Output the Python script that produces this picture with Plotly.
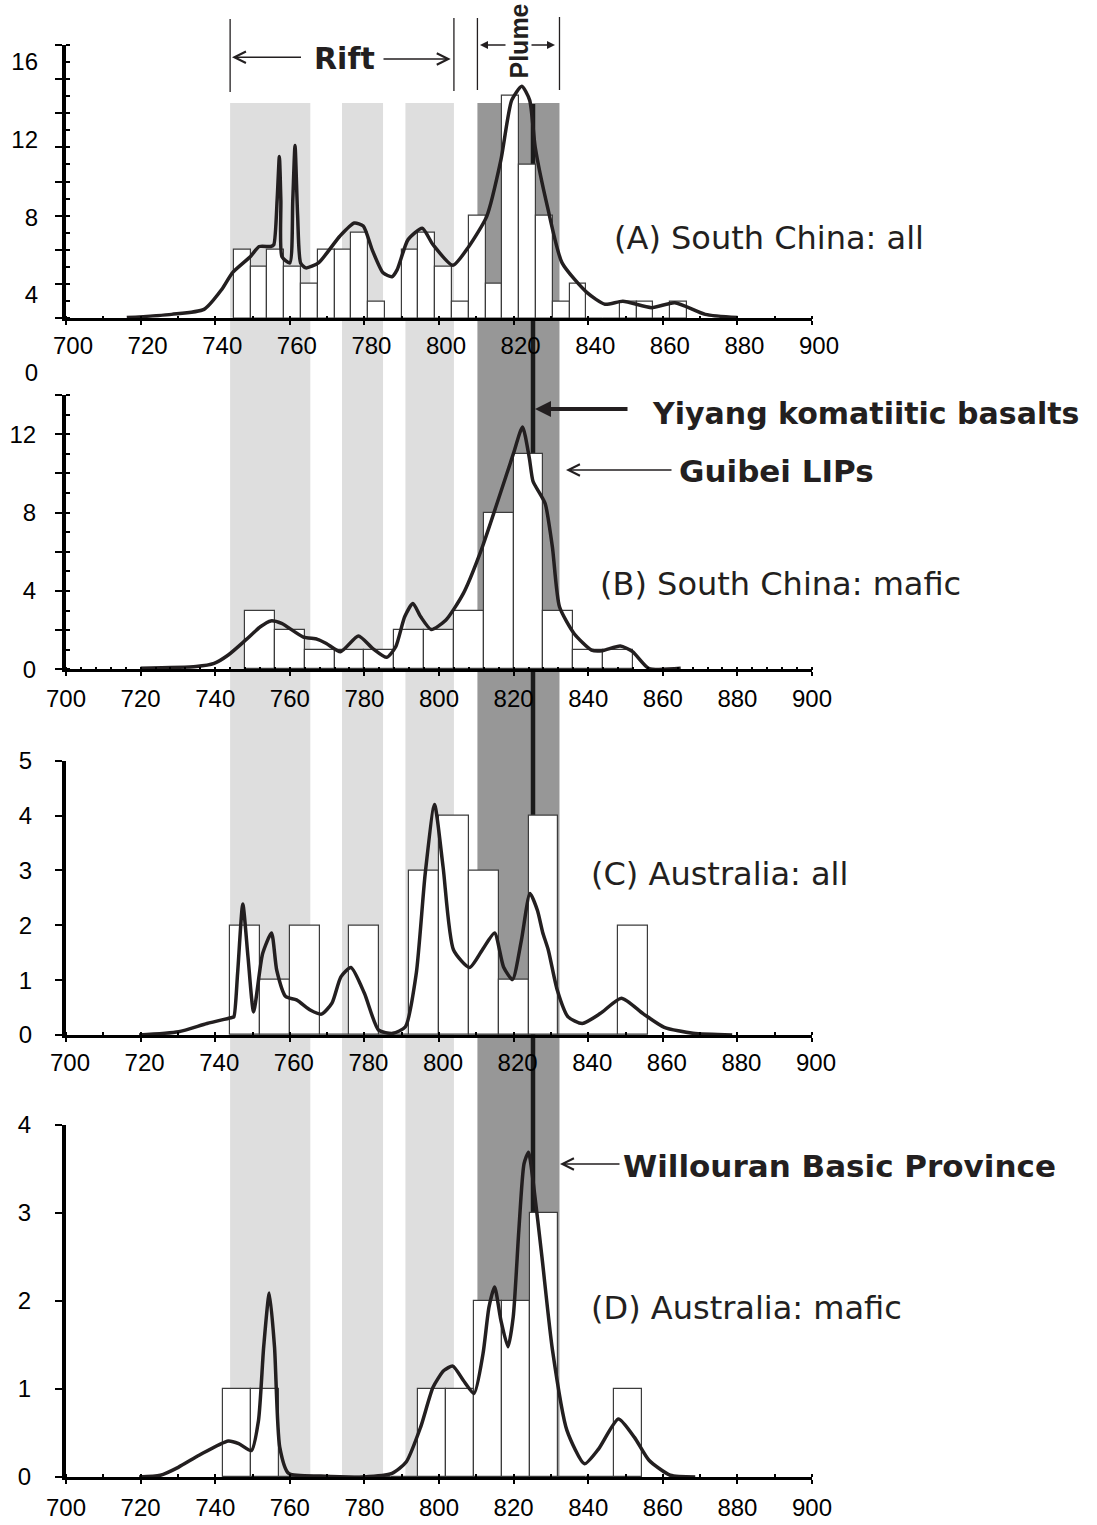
import plotly.graph_objects as go

W, H = 1097, 1525

# ---- Histogram counts (number of zircon ages per bin, Ma) ----
a_bin_start, a_bin_width = 745.0, 4.5
a_counts = [4, 3, 4, 3, 2, 4, 4, 5, 1, 0, 4, 5, 3, 1, 6, 2, 13, 9, 6, 1, 2, 0, 0, 1, 1, 0, 1]

b_bin_start, b_bin_width = 748.0, 8.0
b_counts = [3, 2, 1, 1, 1, 2, 2, 3, 8, 11, 3, 1, 1]

c_bin_start, c_bin_width = 744.0, 8.0
c_counts = [2, 1, 2, 0, 2, 0, 3, 4, 3, 1, 4, 0, 0, 2]

d_bin_start, d_bin_width = 742.0, 7.5
d_counts = [1, 1, 0, 0, 0, 0, 0, 1, 1, 2, 2, 3, 0, 0, 1]

# ---- Relative probability curves ----
a_curve_age = [716.3, 728.3, 737.0, 741.8, 744.6, 749.4, 751.8, 754.9, 755.7, 756.6, 757.2,
               757.6, 757.9, 760.0, 760.8, 761.4, 762.1, 762.9, 764.3, 767.7, 773.4, 777.3,
               779.7, 782.1, 785.0, 787.4, 788.8, 791.7, 795.5, 798.4, 803.7, 808.0, 812.8,
               816.6, 819.5, 822.2, 824.3, 825.8, 829.1, 833.0, 839.7, 844.5, 849.3, 857.0,
               863.2, 871.4, 880.0]
a_curve_val = [0.04, 0.23, 0.52, 1.7, 2.66, 3.6, 4.2, 4.2, 4.3, 6.9, 9.46,
               6.9, 3.6, 3.24, 6.9, 10.1, 6.0, 3.24, 2.95, 3.24, 4.8, 5.57,
               5.4, 4.0, 2.66, 2.43, 2.85, 4.6, 5.26, 4.3, 3.1, 4.2, 5.96,
               9.26, 12.76, 13.57, 12.76, 10.0, 6.5, 3.24, 1.5, 0.82, 1.0, 0.62,
               0.91, 0.23, 0.04]

b_curve_age = [720.0, 734.9, 739.7, 743.5, 748.2, 752.1, 754.9, 757.8, 763.5, 767.4, 769.8,
               773.6, 778.4, 782.2, 786.0, 788.4, 790.8, 793.0, 795.1, 797.9, 801.8, 806.5,
               811.3, 816.1, 819.9, 822.4, 824.2, 825.2, 827.1, 828.5, 830.4, 832.3, 836.2,
               840.9, 843.8, 848.6, 851.9, 856.2, 864.8]
b_curve_val = [0.05, 0.14, 0.3, 0.73, 1.5, 2.17, 2.47, 2.34, 1.66, 1.53, 1.32,
               0.9, 1.7, 1.07, 0.61, 1.15, 2.68, 3.36, 2.68, 2.03, 2.5, 3.86,
               6.07, 8.78, 10.98, 12.37, 10.8, 9.6, 8.95, 8.44, 6.24, 3.19, 1.83,
               0.98, 0.95, 1.19, 0.9, 0.05, 0.05]

c_curve_age = [719.6, 730.2, 737.8, 744.5, 745.0, 746.0, 747.4, 748.8, 750.3, 752.7, 755.1,
               756.5, 758.9, 761.8, 765.6, 768.5, 771.3, 773.7, 776.4, 780.0, 783.8, 787.6,
               791.0, 793.9, 796.3, 798.8, 801.1, 803.9, 808.2, 811.6, 814.9, 817.3, 819.7,
               822.1, 824.4, 826.4, 827.8, 829.3, 831.7, 834.6, 838.4, 843.2, 848.9, 854.7,
               860.4, 868.1, 878.6]
c_curve_val = [0.0, 0.06, 0.21, 0.32, 0.33, 1.12, 2.39, 1.42, 0.42, 1.48, 1.86,
               1.18, 0.7, 0.64, 0.45, 0.38, 0.58, 1.06, 1.23, 0.76, 0.09, 0.03,
               0.15, 1.12, 2.94, 4.2, 3.06, 1.55, 1.23, 1.55, 1.86, 1.24, 1.01,
               1.73, 2.58, 2.27, 1.87, 1.55, 0.82, 0.33, 0.21, 0.39, 0.67, 0.39,
               0.14, 0.03, 0.0]

d_curve_age = [719.6, 725.3, 730.1, 735.8, 743.5, 746.3, 749.7, 751.6, 753.0, 754.5, 755.9,
               757.3, 759.7, 768.3, 779.8, 787.4, 791.2, 795.1, 798.4, 801.3, 803.7, 806.5,
               809.4, 811.8, 813.4, 814.9, 816.6, 818.5, 819.9, 821.4, 822.8, 824.0, 825.2,
               827.6, 830.4, 834.3, 839.0, 842.8, 848.1, 852.4, 856.3, 862.0, 868.7]
d_curve_val = [0.0, 0.02, 0.11, 0.25, 0.41, 0.38, 0.3, 0.64, 1.48, 2.09, 1.48,
               0.34, 0.04, 0.01, 0.0, 0.04, 0.17, 0.57, 1.02, 1.21, 1.26, 1.1,
               0.95, 1.4, 1.93, 2.16, 1.78, 1.48, 1.82, 2.8, 3.56, 3.69, 3.37,
               2.5, 1.45, 0.53, 0.15, 0.32, 0.66, 0.45, 0.19, 0.02, 0.0]

# ---- Event windows (Ma) ----
rift_bands = [[744.0, 765.5], [774.0, 785.0], [791.0, 804.0]]
plume_band = [810.3, 832.3]
yiyang_age = 825.2

panel_labels = ["(A) South China: all", "(B) South China: mafic",
                "(C) Australia: all", "(D) Australia: mafic"]
a_label_ticks = [0, 4, 8, 12, 16]


def fx(p):
    return p / W


def fy(p):
    return 1 - p / H


INK = "#231f20"
TICK_FONT = dict(family="Liberation Sans, Arial", size=24, color="black")
X_DOM = [fx(66), fx(812)]

# panel geometry: top / bottom of the y axis in pixels, axis maximum, ticks
panels = [
    dict(top=44.7, bottom=318.3, ymax=16, yt=list(range(0, 17, 2)), ylab=False,
         xminor=10, xshift=7, xstand=0, ystand=20,
         bins=(a_bin_start, a_bin_width, a_counts), curve=(a_curve_age, a_curve_val)),
    dict(top=395.0, bottom=669.3, ymax=14, yt=list(range(0, 15, 2)), ylab=True,
         xminor=4, xshift=0, xstand=2, ystand=14,
         bins=(b_bin_start, b_bin_width, b_counts), curve=(b_curve_age, b_curve_val)),
    dict(top=760.7, bottom=1035.0, ymax=5, yt=list(range(0, 6)), ylab=True,
         xminor=10, xshift=4, xstand=0, ystand=18,
         bins=(c_bin_start, c_bin_width, c_counts), curve=(c_curve_age, c_curve_val)),
    dict(top=1125.0, bottom=1477.0, ymax=4, yt=list(range(0, 5)), ylab=True,
         xminor=10, xshift=0, xstand=3, ystand=19,
         bins=(d_bin_start, d_bin_width, d_counts), curve=(d_curve_age, d_curve_val)),
]

fig = go.Figure()
layout = {}

for i, p in enumerate(panels):
    n = "" if i == 0 else str(i + 1)
    xa, ya = "x" + n, "y" + n
    start, width, counts = p["bins"]
    centers = [start + width * (k + 0.5) for k in range(len(counts))]
    fig.add_trace(go.Bar(
        x=centers, y=counts, width=width, xaxis=xa, yaxis=ya,
        marker=dict(color="white", line=dict(color="#3c3c3c", width=1.2)),
        showlegend=False, hoverinfo="skip"))
    fig.add_trace(go.Scatter(
        x=p["curve"][0], y=p["curve"][1], mode="lines", xaxis=xa, yaxis=ya,
        line=dict(color=INK, width=3.5, shape="spline", smoothing=0.6),
        showlegend=False, hoverinfo="skip"))

    if p["ylab"]:
        if i == 1:
            ttext = [str(v) if v % 4 == 0 else "" for v in p["yt"]]
        else:
            ttext = [str(v) for v in p["yt"]]
    else:
        ttext = ["" for _ in p["yt"]]

    layout["xaxis" + n] = dict(
        domain=X_DOM, range=[700, 900], anchor=ya, tick0=700, dtick=20,
        showline=True, linecolor="black", linewidth=2.5,
        ticks="outside", ticklen=4, tickwidth=2, tickcolor="black",
        minor=dict(dtick=p["xminor"], tick0=700, ticks="inside", ticklen=3,
                   tickwidth=1.5, tickcolor="black"),
        showgrid=False, zeroline=False, tickfont=TICK_FONT, automargin=False,
        ticklabelshift=p["xshift"], ticklabelstandoff=p["xstand"])
    layout["yaxis" + n] = dict(
        domain=[fy(p["bottom"]), fy(p["top"])], range=[0, p["ymax"]], anchor=xa,
        tickmode="array", tickvals=p["yt"], ticktext=ttext,
        showline=True, linecolor="black", linewidth=4,
        ticks="outside", ticklen=7, tickwidth=2, tickcolor="black",
        minor=dict(dtick=1, ticks="inside", ticklen=4, tickwidth=1.5,
                   tickcolor="black") if i < 2 else None,
        showgrid=False, zeroline=False, tickfont=TICK_FONT, automargin=False,
        ticklabelstandoff=p["ystand"])

# count scale printed beside panel A (own axis, no marks of its own)
fig.add_trace(go.Scatter(x=[], y=[], xaxis="x", yaxis="y5", showlegend=False,
                         hoverinfo="skip"))
layout["yaxis5"] = dict(
    domain=[fy(372.8), fy(44.7)], range=[0, 16.88], anchor="x",
    tickmode="array", tickvals=a_label_ticks,
    showline=False, ticks="", showgrid=False, zeroline=False, automargin=False,
    tickfont=TICK_FONT, ticklabelstandoff=27)

fig.update_layout(**layout)

# ---- shaded windows and the Yiyang age line ----
band_top, band_bottom = fy(103), fy(1477)
shapes = []
for a, b in rift_bands:
    shapes.append(dict(type="rect", xref="x", yref="paper", x0=a, x1=b,
                       y0=band_bottom, y1=band_top, fillcolor="#dedede",
                       line=dict(width=0), layer="below"))
shapes.append(dict(type="rect", xref="x", yref="paper", x0=plume_band[0], x1=plume_band[1],
                   y0=band_bottom, y1=band_top, fillcolor="#979797",
                   line=dict(width=0), layer="below"))
shapes.append(dict(type="line", xref="x", yref="paper", x0=yiyang_age, x1=yiyang_age,
                   y0=band_bottom, y1=fy(104), line=dict(color="#1a1a1a", width=4.5),
                   layer="below"))
# bracket lines for the Rift and Plume ranges
for xv, t, b in [(rift_bands[0][0], 19, 92), (rift_bands[-1][1], 18, 91),
                 (plume_band[0], 18, 90), (plume_band[1], 17, 90)]:
    shapes.append(dict(type="line", xref="x", yref="paper", x0=xv, x1=xv,
                       y0=fy(b), y1=fy(t), line=dict(color=INK, width=1.3)))

LABEL_FONT = dict(family="DejaVu Sans", size=32, color=INK)
BOLD_FONT = dict(family="DejaVu Sans", size=30, color=INK)

annotations = []
for text, xp, yp in zip(panel_labels, [612, 598, 589, 589], [238, 584, 874, 1308]):
    annotations.append(dict(text=text, x=fx(xp), y=fy(yp), xref="paper", yref="paper",
                            xanchor="left", yanchor="middle", showarrow=False,
                            font=LABEL_FONT))

for text, xp, yp, size in [("Yiyang komatiitic basalts", 650, 413, 30),
                           ("Guibei LIPs", 677, 471, 31),
                           ("Willouran Basic Province", 621, 1166, 31)]:
    annotations.append(dict(text="<b>" + text + "</b>", x=fx(xp), y=fy(yp),
                            xref="paper", yref="paper", xanchor="left", yanchor="middle",
                            showarrow=False, font=dict(family="DejaVu Sans", size=size, color=INK)))

annotations.append(dict(text="<b>Rift</b>", x=fx(344.5), y=fy(58), xref="paper", yref="paper",
                        xanchor="center", yanchor="middle", showarrow=False, font=BOLD_FONT))
annotations.append(dict(text="<b>Plume</b>", x=fx(518), y=fy(80), xref="paper", yref="paper",
                        xanchor="center", yanchor="bottom", showarrow=False, textangle=-90,
                        borderpad=0,
                        font=dict(family="Liberation Sans, Arial", size=25, color=INK)))

# arrows: (head x px, head y px, tail offset px, head style, size, width)
arrows = [
    (232, 57.3, 70.5, 5, 1.5, 1.5),
    (450.7, 59, -68.7, 5, 1.5, 1.5),
    (480, 45, 27, 2, 1.0, 1.6),
    (555, 45, -25, 2, 1.0, 1.6),
    (535, 409, 94, 2, 0.8, 4),
    (566, 470, 107, 5, 1.5, 1.5),
    (560, 1164, 61, 5, 1.5, 1.5),
]
for hx, hy, off, head, size, wdt in arrows:
    annotations.append(dict(text="", x=fx(hx), y=fy(hy), xref="paper", yref="paper",
                            ax=off, ay=0, axref="pixel", ayref="pixel", showarrow=True,
                            arrowhead=head, arrowsize=size, arrowwidth=wdt,
                            arrowcolor=INK, standoff=0, startstandoff=0))

fig.update_layout(
    width=W, height=H, margin=dict(l=0, r=0, t=0, b=0, pad=0, autoexpand=False),
    paper_bgcolor="white", plot_bgcolor="rgba(0,0,0,0)",
    shapes=shapes, annotations=annotations, showlegend=False, bargap=0,
)

fig.write_html("out.html")
